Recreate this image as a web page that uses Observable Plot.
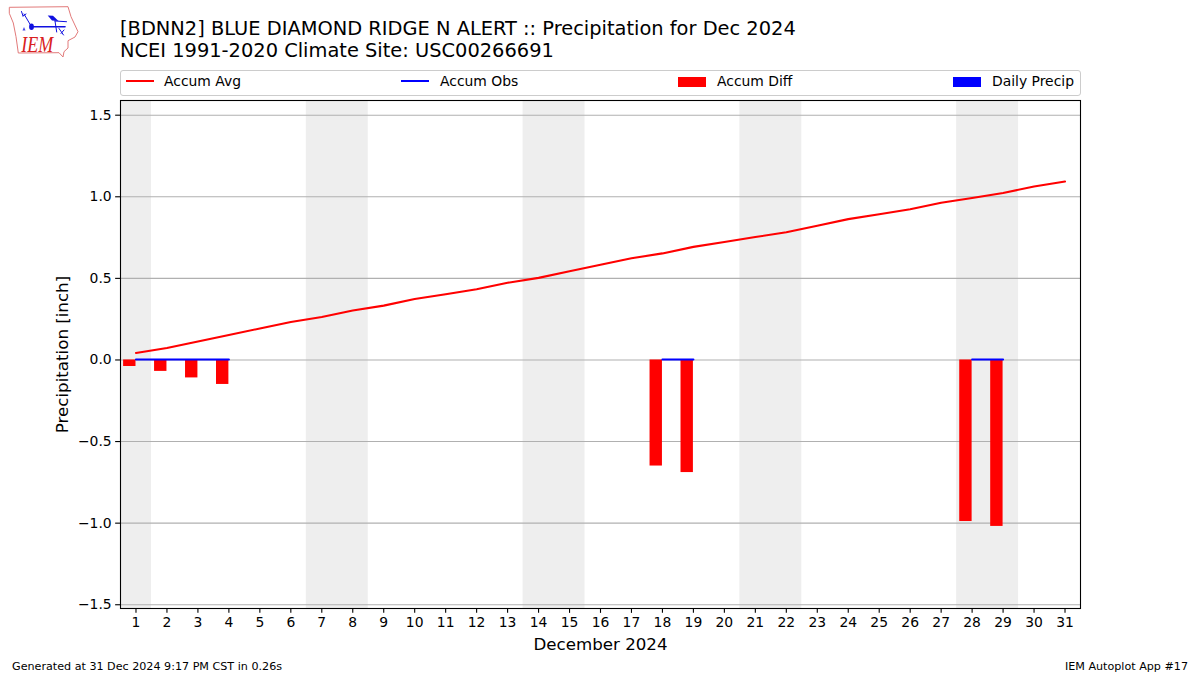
<!DOCTYPE html>
<html><head><meta charset="utf-8">
<script src="https://cdn.jsdelivr.net/npm/d3@7"></script>
<script src="https://cdn.jsdelivr.net/npm/@observablehq/plot@0.6"></script>
<style>
html,body{margin:0;padding:0;background:#fff;}
#page{position:relative;width:1200px;height:675px;overflow:hidden;font-family:"DejaVu Sans",sans-serif;color:#000;}
#chart{position:absolute;left:0;top:0;}
.t{position:absolute;white-space:nowrap;}
#title{left:120px;top:18px;font-size:19.42px;line-height:22.4px;}
#legend{position:absolute;left:120px;top:70px;width:959px;height:24px;border:1px solid #ccc;border-radius:3px;background:#fff;}
.lt{position:absolute;top:81px;transform:translateY(-50%);font-size:13.9px;white-space:nowrap;}
.ls{position:absolute;}
.foot{position:absolute;top:660px;font-size:11.15px;white-space:nowrap;}
svg text{font-family:"DejaVu Sans",sans-serif;}
</style></head><body>
<div id="page">
<div id="chart"></div>
<div class="t" id="title">[BDNN2] BLUE DIAMOND RIDGE N ALERT :: Precipitation for Dec 2024<br>NCEI 1991-2020 Climate Site: USC00266691</div>
<div id="legend"></div>
<div class="ls" style="left:126px;top:80px;width:28px;height:2px;background:#f00"></div>
<div class="lt" style="left:164px">Accum Avg</div>
<div class="ls" style="left:401px;top:80px;width:28px;height:2px;background:#00f"></div>
<div class="lt" style="left:440px">Accum Obs</div>
<div class="ls" style="left:678px;top:77px;width:28px;height:9.5px;background:#f00"></div>
<div class="lt" style="left:717px">Accum Diff</div>
<div class="ls" style="left:953px;top:77px;width:28px;height:9.5px;background:#00f"></div>
<div class="lt" style="left:992px">Daily Precip</div>
<svg style="position:absolute;left:0;top:0" width="90" height="62" viewBox="0 0 90 62">
  <path d="M9.3 7.3L68 6.7L71 16.7L78 31.7L75 37L68 40.7L68 48L64 51.7L63 57L59 52.7L18.3 53L16 36.7L13.3 23L9.3 13.3Z" fill="none" stroke="#e27a7a" stroke-width="1"/>
  <g stroke="#1010e0" fill="none" stroke-linecap="round">
    <path d="M31.5 26.7L65 26.7" stroke-width="1.6"/>
    <path d="M31.5 26.7L24 14M21.5 11.5L23 16M26 14L23 16" stroke-width="1"/>
    <path d="M55 21L66.5 21.7" stroke-width="1"/>
    <path d="M55 21L56.7 32M59 28.5L63.5 35M61 33.5L64 30" stroke-width="1"/>
  </g>
  <ellipse cx="31.5" cy="26.7" rx="2.4" ry="3.3" fill="#1010e0"/>
  <path d="M47.7 15.5L53 15.7L58.5 21L52 20.5Z" fill="#1010e0"/>
  <path d="M22.5 30.5L24 27L25.5 30.5Z" fill="#1010e0" opacity="0.75"/>
  <text transform="translate(21.3 52) scale(1 1.25)" font-style="italic" font-size="18" fill="#d92020" style="font-family:'Liberation Serif',serif">IEM</text>
</svg>
<div class="foot" style="left:12px">Generated at 31 Dec 2024 9:17 PM CST in 0.26s</div>
<div class="foot" style="right:12px">IEM Autoplot App #17</div>
</div>
<script>
const days = d3.range(1, 32);
const avg = [0.04,0.07,0.11,0.15,0.19,0.23,0.26,0.30,0.33,0.37,0.40,0.43,0.47,0.50,0.54,0.58,0.62,0.65,0.69,0.72,0.75,0.78,0.82,0.86,0.89,0.92,0.96,0.99,1.02,1.06,1.09];
const obsDays = [1,2,3,4,18,19,28,29];
const obsValues = [0,0,0,0,0,0,0,0];
const diffValues = [-0.04,-0.07,-0.11,-0.15,-0.65,-0.69,-0.99,-1.02];
const weekendStart = [0.5,6.5,13.5,20.5,27.5];
const weekendEnd = [1.5,8.5,15.5,22.5,29.5];
const yTicks = [-1.5,-1,-0.5,0,0.5,1,1.5];

const avgRows = days.map((d,i)=>({d,v:avg[i]}));
const obsRows = days.map(d=>{const i=obsDays.indexOf(d);return {d,v:i<0?null:obsValues[i]};});
const diffRows = obsDays.map((d,i)=>({d,v:diffValues[i]}));
const bands = weekendStart.map((s,i)=>({s,e:weekendEnd[i]}));
const barWidth = 0.4;

const plot = Plot.plot({
  width:1200, height:675,
  marginLeft:120, marginRight:120, marginTop:100, marginBottom:67,
  style:{background:"transparent",fontFamily:"DejaVu Sans",fontSize:"13.9px",color:"#000"},
  x:{type:"linear",domain:[0.5,31.5],range:[120,1080]},
  y:{type:"linear",domain:[-1.523,1.59],range:[608,100]},
  marks:[
    Plot.rectX(bands,{x1:"s",x2:"e",y1:-1.523,y2:1.59,fill:"#eeeeee",inset:0}),
    Plot.gridY(yTicks,{stroke:"#b0b0b0",strokeOpacity:1,strokeWidth:1.1}),
    Plot.rectY(diffRows,{x1:d=>d.d-barWidth,x2:"d",y1:0,y2:"v",fill:"#ff0000",inset:0}),
    Plot.line(avgRows,{x:"d",y:"v",stroke:"#ff0000",strokeWidth:2.08,curve:"linear",dy:-0.5}),
    Plot.line(obsRows,{x:"d",y:"v",stroke:"#0000ff",strokeWidth:2.08,curve:"linear",dy:-0.5}),
    Plot.axisX(days,{anchor:"bottom",tickSize:4.86,tickPadding:4,stroke:"#000",fill:"#000",fontSize:13.9,strokeWidth:1.1,
      tickFormat:d=>String(d),label:"December 2024",labelAnchor:"center",labelArrow:"none",labelOffset:41}),
    Plot.axisY(yTicks,{anchor:"left",tickSize:4.86,tickPadding:4,stroke:"#000",fill:"#000",fontSize:13.9,strokeWidth:1.1,
      tickFormat:d3.format(".1f"),label:"Precipitation [inch]",labelAnchor:"center",labelArrow:"none",labelOffset:64}),
    Plot.frame({stroke:"#000",strokeWidth:1.1})
  ]
});
document.getElementById("chart").appendChild(plot);
plot.querySelectorAll('g[aria-label$="axis label"] text').forEach(t=>t.setAttribute("font-size","16.67"));
plot.querySelectorAll('g[aria-label$="axis label"]').forEach(g=>{g.setAttribute("font-size","16.67");g.style.fontSize="16.67px";});
</script>
</body></html>
